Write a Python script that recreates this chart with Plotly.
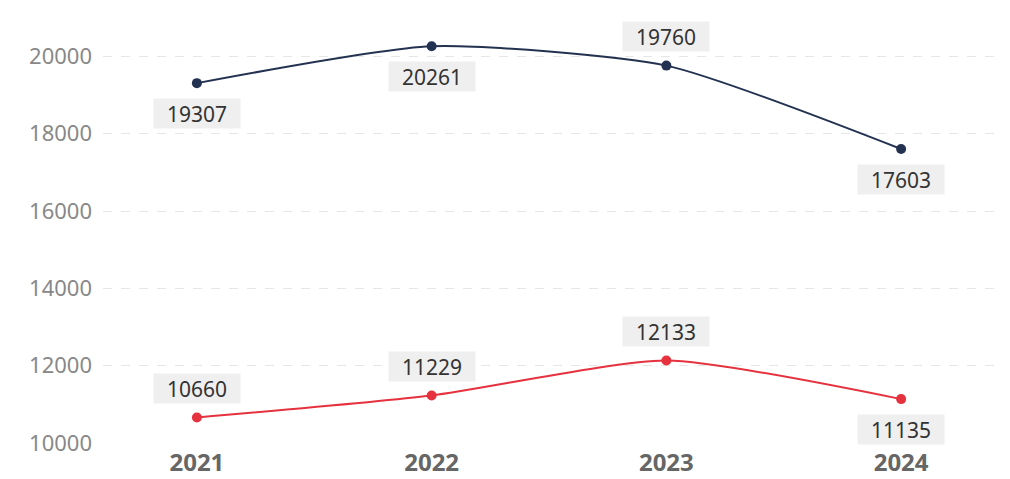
import plotly.graph_objects as go

years = ["2021", "2022", "2023", "2024"]
series_top = [19307, 20261, 19760, 17603]
series_bottom = [10660, 11229, 12133, 11135]
top_label_side = ["below", "below", "above", "below"]
bottom_label_side = ["above", "above", "above", "below"]
y_ticks = [10000, 12000, 14000, 16000, 18000, 20000]

navy = "#243251"
red = "#e5323e"
xs = list(range(len(years)))

fig = go.Figure()
for vals, col in [(series_top, navy), (series_bottom, red)]:
    fig.add_trace(go.Scatter(
        x=xs, y=vals, mode="lines+markers",
        line=dict(color=col, width=2, shape="spline", smoothing=0.6),
        marker=dict(color=col, size=10),
        showlegend=False, hoverinfo="skip",
    ))

annotations = []
for vals, sides in [(series_top, top_label_side), (series_bottom, bottom_label_side)]:
    for xi, v, s in zip(xs, vals, sides):
        annotations.append(dict(
            x=xi, y=v, xref="x", yref="y", text=str(v), showarrow=False,
            yshift=-30 if s == "below" else 29,
            font=dict(family="Noto Sans", size=21, color="#333333"),
            bgcolor="#efefef", borderpad=0, width=86, height=29,
        ))

fig.update_layout(
    width=1002, height=471,
    margin=dict(l=95, r=15, t=29, b=36, autoexpand=False),
    plot_bgcolor="white", paper_bgcolor="white",
    annotations=annotations,
    xaxis=dict(
        range=[-0.4, 3.4], tickmode="array", tickvals=xs, ticktext=years,
        showgrid=False, zeroline=False, showline=False, ticks="",
        tickfont=dict(family="Noto Sans", size=24, color="#666666", weight="bold"),
        ticklabelstandoff=3, automargin=False,
    ),
    yaxis=dict(
        range=[10000, 20500], tickmode="array", tickvals=y_ticks,
        ticktext=[str(t) for t in y_ticks],
        showgrid=True, gridcolor="#e6e6e6", griddash="dash", gridwidth=1,
        zeroline=False, showline=False, ticks="",
        tickfont=dict(family="Noto Sans", size=22, color="#888888"),
        ticklabelstandoff=10, automargin=False,
    ),
)
fig.write_html("out.html")
